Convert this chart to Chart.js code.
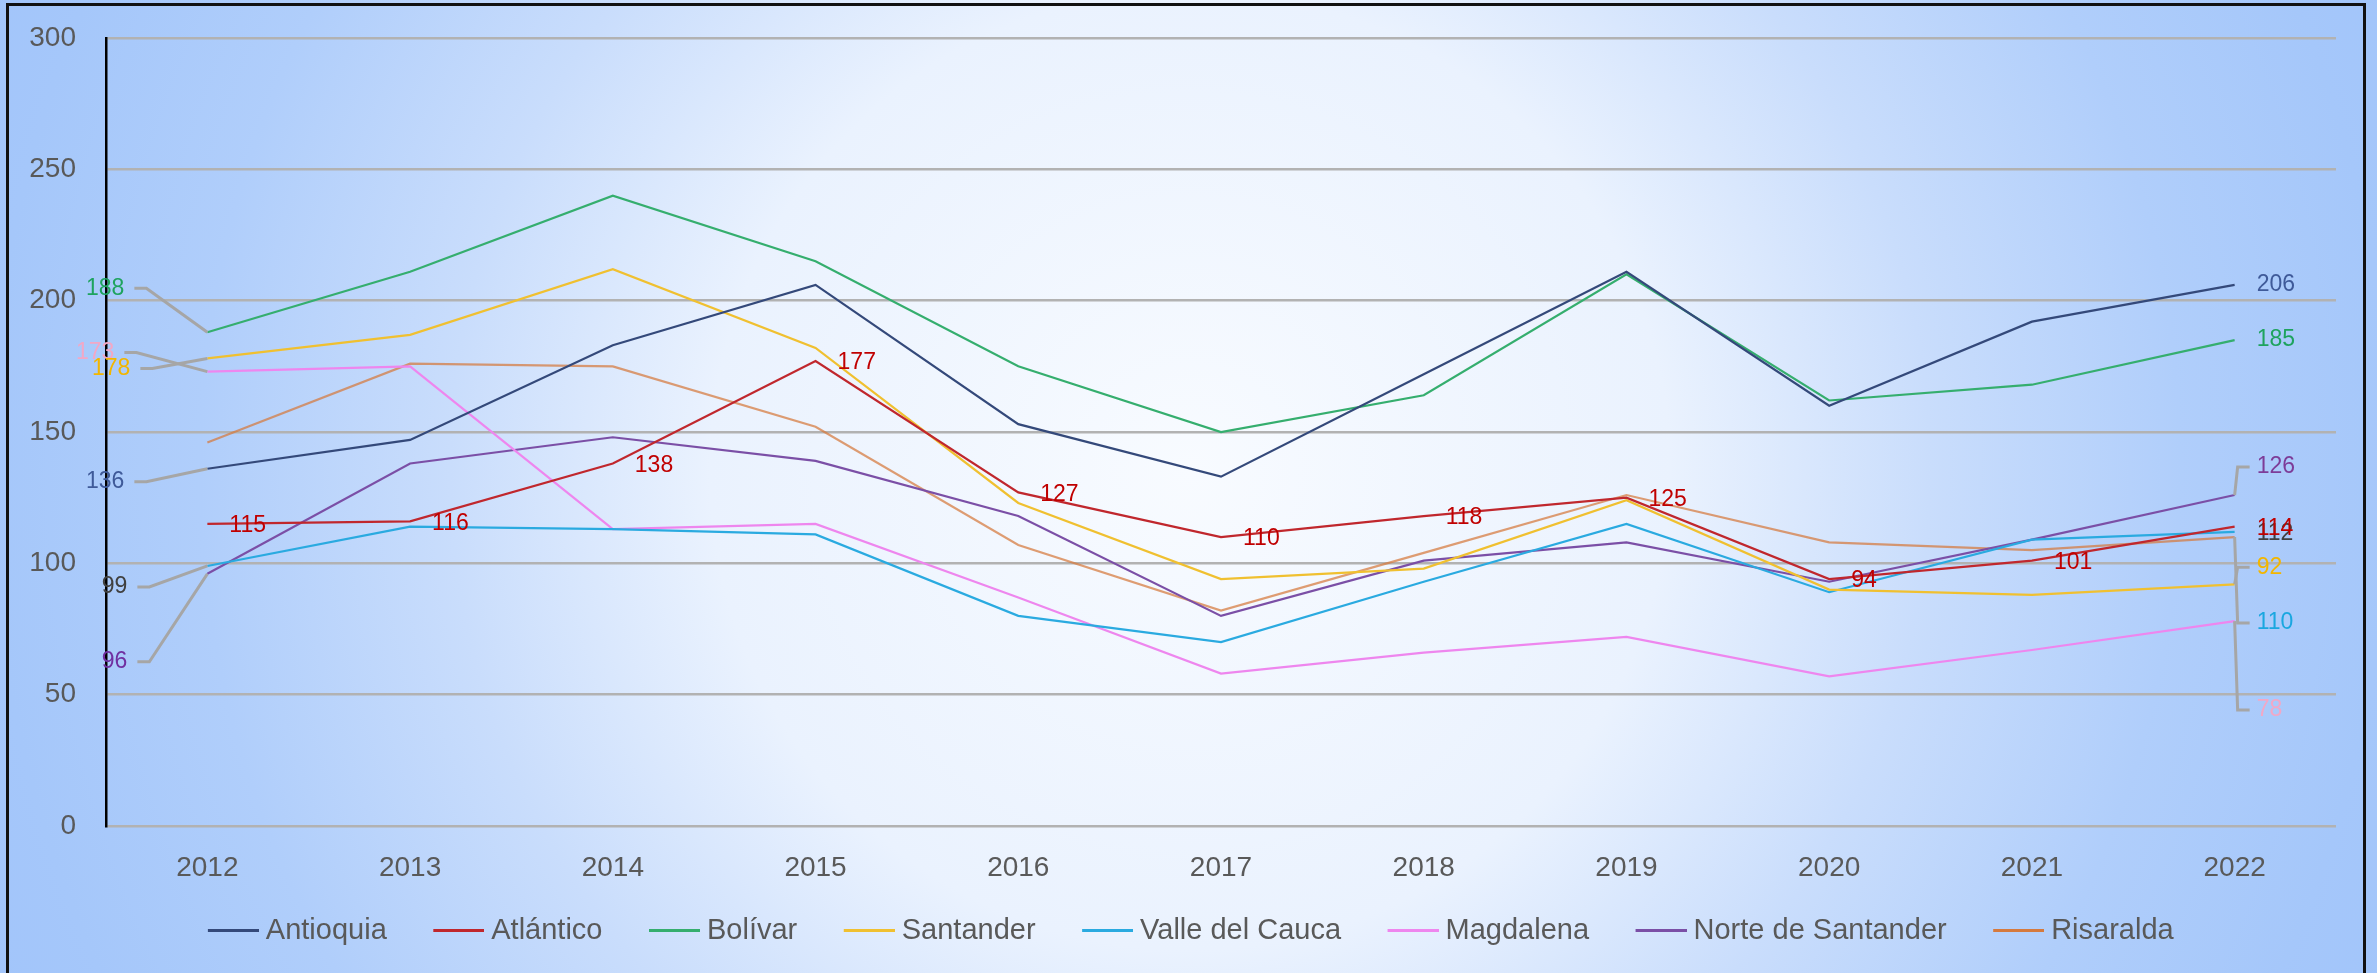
<!DOCTYPE html>
<html>
<head>
<meta charset="utf-8">
<script src="https://cdn.jsdelivr.net/npm/chart.js@4.4.1/dist/chart.umd.min.js"></script>
<style>
  html, body { margin: 0; padding: 0; }
  body {
    width: 2377px; height: 973px; overflow: hidden; position: relative;
    background: radial-gradient(circle 1300px at 1190px 470px, #f8fbff 0px, #eaf2fe 480px, #c9ddfc 740px, #b0cefb 990px, #a5c7fa 1200px, #a2c5fa 1300px);
  }
  #wrap { position: absolute; left: 0; top: 0; width: 2377px; height: 973px; }
  #frame { position: absolute; left: 6px; top: 3px; width: 2354px; height: 1100px; border: 3px solid #111; pointer-events: none; }
</style>
</head>
<body>
<div id="wrap"><canvas id="c" width="2377" height="973"></canvas></div>
<div id="frame"></div>
<script>
const years = ['2012','2013','2014','2015','2016','2017','2018','2019','2020','2021','2022'];
const yTicks = [0, 50, 100, 150, 200, 250, 300];

const antioquia        = [136, 147, 183, 206, 153, 133, 172, 211, 160, 192, 206];
const atlantico        = [115, 116, 138, 177, 127, 110, 118, 125,  94, 101, 114];
const bolivar          = [188, 211, 240, 215, 175, 150, 164, 210, 162, 168, 185];
const santander        = [178, 187, 212, 182, 123,  94,  98, 124,  90,  88,  92];
const valleDelCauca    = [ 99, 114, 113, 111,  80,  70,  93, 115,  89, 109, 112];
const magdalena        = [173, 175, 113, 115,  87,  58,  66,  72,  57,  67,  78];
const norteDeSantander = [ 96, 138, 148, 139, 118,  80, 101, 108,  93, 109, 126];
const risaralda        = [146, 176, 175, 152, 107,  82, 104, 126, 108, 105, 110];

const seriesNames = ['Antioquia','Atlántico','Bolívar','Santander','Valle del Cauca','Magdalena','Norte de Santander','Risaralda'];
const seriesValues = [antioquia, atlantico, bolivar, santander, valleDelCauca, magdalena, norteDeSantander, risaralda];
const lineColors   = ['#34497A', '#C0272D', '#35AE6E', '#F0C030', '#2AAAE0', '#EE86EE', '#7B4FA6', 'rgba(214,120,60,0.72)'];
const legendColors = ['#34497A', '#C0272D', '#35AE6E', '#F0C030', '#2AAAE0', '#EE86EE', '#7B4FA6', '#D57A3E'];

const FONT = "'Liberation Sans', Arial, sans-serif";

// data label styling (series index, point index, colour, placement)
const labelSpecs = [
  // left side, 2012
  {s: 2, i: 0, color: '#1EA35E', side: 'L', dx: -83, dy: -44, leader: true},
  {s: 5, i: 0, color: '#F2A8C6', side: 'L', dx: -93, dy: -19, leader: true},
  {s: 3, i: 0, color: '#F2B600', side: 'L', dx: -77, dy: 10,  leader: true},
  {s: 0, i: 0, color: '#3F5A99', side: 'L', dx: -83, dy: 13,  leader: true},
  {s: 4, i: 0, color: '#404040', side: 'L', dx: -80, dy: 21,  leader: true},
  {s: 6, i: 0, color: '#7030A0', side: 'L', dx: -80, dy: 88,  leader: true},
  // right side, 2022
  {s: 0, i: 10, color: '#3F5A99', side: 'R', dy: 0,  leader: false},
  {s: 2, i: 10, color: '#1EA35E', side: 'R', dy: 0,  leader: false},
  {s: 6, i: 10, color: '#7D3C98', side: 'R', dy: -28, leader: true},
  {s: 4, i: 10, color: '#404040', side: 'R', dy: 2,  leader: false},
  {s: 3, i: 10, color: '#F2B600', side: 'R', dy: -17, leader: true},
  {s: 7, i: 10, color: '#1AA7E0', side: 'R', dy: 86, leader: true},
  {s: 5, i: 10, color: '#F2A8C6', side: 'R', dy: 89, leader: true}
];
// Atlántico: every point labelled to the right
atlantico.forEach((v, i) => labelSpecs.push({s: 1, i: i, color: '#C00000', side: 'R', dy: 2, leader: false}));

const dataLabelPlugin = {
  id: 'dataLabels',
  afterDatasetsDraw(chart) {
    const ctx = chart.ctx;
    ctx.save();
    ctx.font = '23px ' + FONT;
    ctx.textBaseline = 'middle';
    ctx.strokeStyle = '#A6A6A6';
    ctx.lineWidth = 3;
    labelSpecs.forEach(sp => {
      if (!sp.leader) return;
      const pt = chart.getDatasetMeta(sp.s).data[sp.i];
      const ly = pt.y + sp.dy;
      ctx.beginPath();
      if (sp.side === 'L') {
        ctx.moveTo(pt.x + sp.dx + 10, ly);
        ctx.lineTo(pt.x + sp.dx + 22, ly);
        ctx.lineTo(pt.x, pt.y);
      } else {
        ctx.moveTo(pt.x, pt.y);
        ctx.lineTo(pt.x + 3, ly);
        ctx.lineTo(pt.x + 15, ly);
      }
      ctx.stroke();
    });
    labelSpecs.forEach(sp => {
      const pt = chart.getDatasetMeta(sp.s).data[sp.i];
      const txt = String(seriesValues[sp.s][sp.i]);
      ctx.fillStyle = sp.color;
      if (sp.side === 'L') {
        ctx.textAlign = 'right';
        ctx.fillText(txt, pt.x + sp.dx, pt.y + sp.dy);
      } else {
        ctx.textAlign = 'left';
        ctx.fillText(txt, pt.x + 22, pt.y + sp.dy);
      }
    });
    ctx.restore();
  }
};

// legend marker: a short line at the right end of a wider transparent swatch
function legendMarker(color) {
  const cv = document.createElement('canvas');
  cv.width = 75; cv.height = 3;
  const c = cv.getContext('2d');
  c.fillStyle = color;
  c.fillRect(24, 0, 51, 3);
  return cv;
}
const markers = legendColors.map(legendMarker);

const datasets = seriesNames.map((name, k) => ({
  label: name,
  data: seriesValues[k],
  borderColor: lineColors[k],
  backgroundColor: legendColors[k],
  borderWidth: 2.2,
  pointRadius: 0,
  pointHoverRadius: 0,
  tension: 0,
  fill: false
}));

new Chart(document.getElementById('c'), {
  type: 'line',
  data: { labels: years, datasets: datasets },
  options: {
    responsive: false,
    animation: false,
    devicePixelRatio: 1,
    layout: { padding: { left: 29, right: 41, top: 38, bottom: 18 } },
    plugins: {
      tooltip: { enabled: false },
      legend: {
        position: 'bottom',
        labels: {
          usePointStyle: true,
          pointStyleWidth: 60,
          boxHeight: 3,
          padding: 30,
          color: '#595959',
          font: { family: FONT, size: 29 },
          generateLabels(chart) {
            return chart.data.datasets.map((ds, k) => ({
              text: ds.label,
              fillStyle: legendColors[k],
              strokeStyle: legendColors[k],
              lineWidth: 0,
              pointStyle: markers[k],
              hidden: false,
              datasetIndex: k,
              fontColor: '#595959'
            }));
          }
        }
      }
    },
    scales: {
      x: {
        offset: true,
        grid: { display: false, drawTicks: false },
        border: { display: false },
        ticks: { color: '#595959', font: { family: FONT, size: 28 }, padding: 25 },
        afterFit(scale) { scale.height = 60; }
      },
      y: {
        min: 0,
        max: 300,
        afterBuildTicks(scale) { scale.ticks = yTicks.map(v => ({ value: v })); },
        afterFit(scale) { scale.width = 77; scale.paddingTop = 8; scale.paddingBottom = 8; },
        grid: { color: '#B2B2B2', lineWidth: 2.5, drawTicks: false },
        border: { display: true, color: '#000', width: 2.5 },
        ticks: { color: '#595959', font: { family: FONT, size: 28 }, padding: 30 }
      }
    }
  },
  plugins: [dataLabelPlugin]
});
</script>
</body>
</html>
